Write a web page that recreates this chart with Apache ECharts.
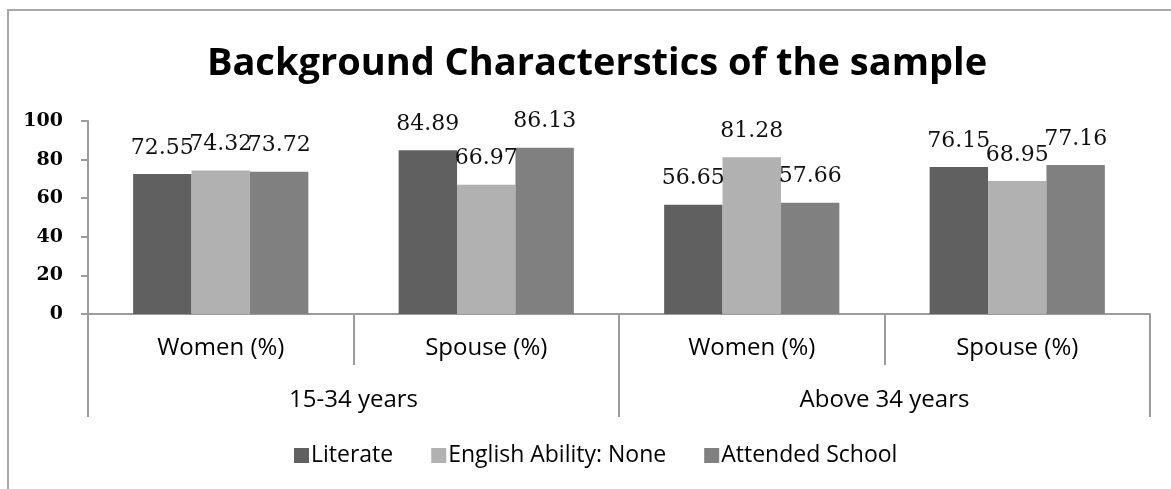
<!DOCTYPE html>
<html>
<head>
<meta charset="utf-8">
<script src="https://cdn.jsdelivr.net/npm/echarts@6/dist/echarts.min.js"></script>
<style>
  html, body { margin: 0; padding: 0; background: #fff; }
  #chart { width: 1171px; height: 489px; }
</style>
</head>
<body>
<div id="chart"></div>
<script>
const groups = ['Women (%)', 'Spouse (%)', 'Women (%)', 'Spouse (%)']
const ageBands = ['15-34 years', 'Above 34 years']
const literate = [72.55, 84.89, 56.65, 76.15]
const englishNone = [74.32, 66.97, 81.28, 68.95]
const attendedSchool = [73.72, 86.13, 57.66, 77.16]
const yTicks = [0, 20, 40, 60, 80, 100]

const axisGray = '#9c9c9c'
const labelFont = 'DejaVu Serif'

const chart = echarts.init(document.getElementById('chart'))

function barSeries(name, data, color) {
  return {
    name,
    type: 'bar',
    data,
    barGap: '0%',
    barCategoryGap: '34%',
    itemStyle: { color },
    label: {
      show: true,
      position: 'top',
      distance: 15,
      color: '#111',
      fontFamily: labelFont,
      fontSize: 22
    },
    animation: false
  }
}

chart.setOption({
  animation: false,
  title: {
    text: 'Background Characterstics of the sample',
    left: 592,
    top: 40,
    textAlign: 'center',
    textStyle: {
      fontFamily: 'Open Sans',
      fontWeight: 'bold',
      fontSize: 38,
      color: '#000'
    }
  },
  graphic: [
    {
      type: 'rect',
      shape: { x: 8, y: 10, width: 1300, height: 600 },
      style: { fill: 'none', stroke: '#a8a8a8', lineWidth: 2 },
      silent: true
    },
    {
      // figure caption, cut off by the top edge in the source image
      type: 'text',
      x: 595,
      y: -18,
      style: {
        text: 'Figure 1: Background Characteristics of the sample',
        font: 'italic 18px "Open Sans"',
        fill: '#000',
        textAlign: 'center'
      },
      silent: true
    }
  ],
  legend: {
    data: ['Literate', 'English Ability: None', 'Attended School'],
    left: 289,
    top: 439,
    itemWidth: 15,
    itemHeight: 15,
    itemGap: 38,
    icon: 'rect',
    textStyle: {
      fontFamily: 'Open Sans',
      fontSize: 23,
      color: '#000',
      padding: [0, 0, 0, -3]
    }
  },
  grid: {
    left: 88,
    right: 21,
    top: 121,
    bottom: 175
  },
  xAxis: [
    {
      type: 'category',
      data: groups,
      axisLine: { show: true, lineStyle: { color: axisGray, width: 2 } },
      axisTick: { show: true, length: 51, interval: 0, lineStyle: { color: axisGray, width: 2 } },
      axisLabel: {
        margin: 22,
        interval: 0,
        color: '#000',
        fontFamily: 'Open Sans',
        fontSize: 24
      }
    },
    {
      type: 'category',
      data: ageBands,
      position: 'bottom',
      axisLine: { show: false },
      axisTick: { show: true, length: 103, interval: 0, lineStyle: { color: axisGray, width: 2 } },
      axisLabel: {
        margin: 74,
        interval: 0,
        color: '#000',
        fontFamily: 'Open Sans',
        fontSize: 24
      }
    }
  ],
  yAxis: {
    type: 'value',
    min: yTicks[0],
    max: yTicks[yTicks.length - 1],
    interval: 20,
    axisLine: { show: true, lineStyle: { color: axisGray, width: 2 } },
    axisTick: { show: true, length: 7, lineStyle: { color: axisGray, width: 2 } },
    splitLine: { show: false },
    axisLabel: {
      margin: 25,
      color: '#000',
      fontFamily: labelFont,
      fontWeight: 'bold',
      fontSize: 19
    }
  },
  series: [
    barSeries('Literate', literate, '#606060'),
    barSeries('English Ability: None', englishNone, '#b1b1b1'),
    barSeries('Attended School', attendedSchool, '#808080')
  ]
})
</script>
</body>
</html>
